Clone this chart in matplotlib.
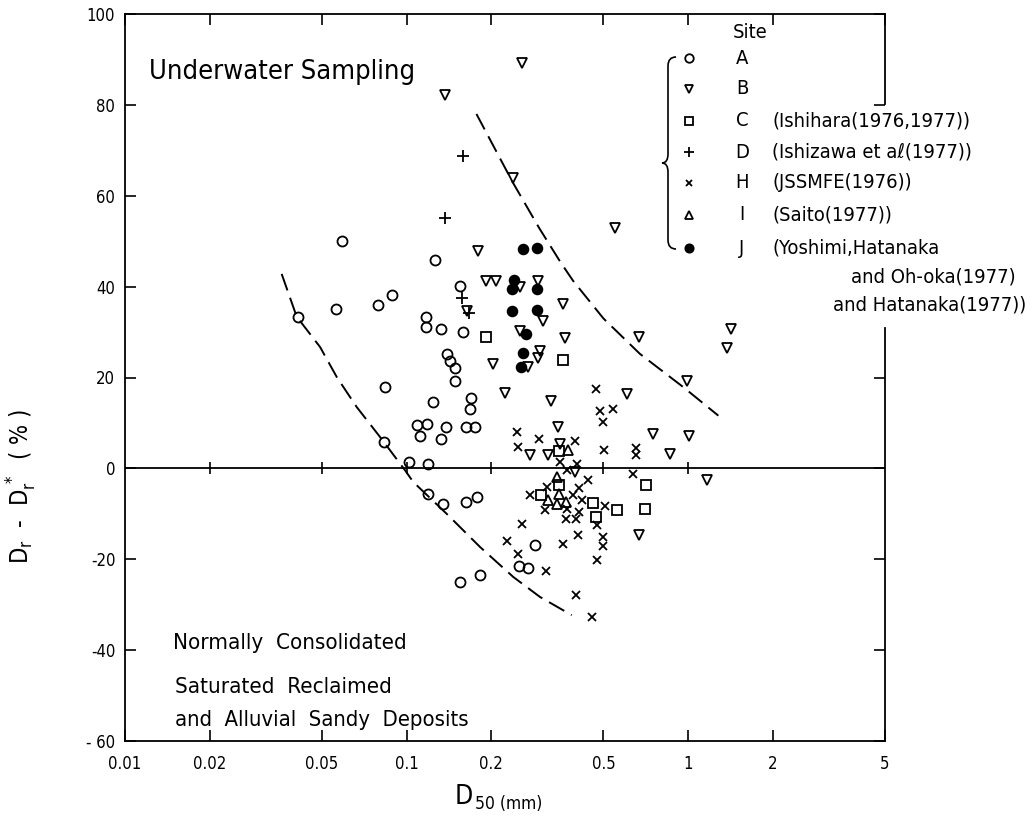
import matplotlib
matplotlib.use("Agg")
import matplotlib.pyplot as plt
from matplotlib.lines import Line2D
from matplotlib.path import Path
from matplotlib.patches import PathPatch
from matplotlib.ticker import NullLocator

plt.rcParams['font.family'] = ['DejaVu Sans']
plt.rcParams['font.stretch'] = 'condensed'
plt.rcParams['mathtext.default'] = 'regular'
plt.rcParams['axes.unicode_minus'] = False

# site A (open circles)
a_x = [0.041, 0.056, 0.059, 0.079, 0.089, 0.117, 0.117, 0.126, 0.132, 0.155,
       0.158, 0.139, 0.143, 0.148, 0.148, 0.084, 0.124, 0.170, 0.168, 0.109,
       0.118, 0.112, 0.138, 0.132, 0.162, 0.175, 0.083, 0.102, 0.119, 0.119,
       0.135, 0.163, 0.178, 0.155, 0.182, 0.286, 0.251, 0.270]
a_y = [33.4, 35.0, 50.0, 36.0, 38.2, 33.3, 31.1, 45.9, 30.7, 40.1,
       30.0, 25.1, 23.6, 22.1, 19.3, 17.9, 14.6, 15.5, 13.1, 9.5,
       9.7, 7.2, 9.1, 6.5, 9.2, 9.2, 5.8, 1.4, 1.0, -5.7,
       -7.9, -7.5, -6.4, -25.0, -23.5, -16.8, -21.5, -22.0]

# site B (open down triangles)
b_x = [0.256, 0.137, 0.239, 0.550, 0.180, 0.191, 0.208, 0.253, 0.294, 0.164,
       0.360, 0.306, 0.253, 0.365, 0.298, 0.294, 0.270, 0.202, 0.224, 0.327,
       0.346, 0.274, 0.319, 0.350, 0.396, 0.604, 0.993, 0.748, 1.007, 0.861,
       1.164, 0.670, 1.416, 1.370, 0.670]
b_y = [89.3, 82.1, 64.0, 53.0, 47.8, 41.3, 41.3, 40.0, 41.3, 34.6,
       36.2, 32.5, 30.3, 28.7, 25.8, 24.3, 22.4, 23.0, 16.5, 14.9,
       9.2, 2.9, 2.9, 5.3, -0.8, 16.3, 19.2, 7.6, 7.1, 3.2,
       -2.6, -14.7, 30.7, 26.5, 28.9]

# site C (open squares)
c_x = [0.191, 0.358, 0.349, 0.347, 0.299, 0.460, 0.471, 0.557, 0.703, 0.708]
c_y = [29.0, 23.9, 3.8, -3.7, -5.9, -7.6, -10.7, -9.1, -8.9, -3.7]

# site D (plus)
d_x = [0.159, 0.137, 0.157, 0.167]
d_y = [68.8, 55.1, 37.6, 34.1]

# site H (x)
h_x = [0.246, 0.296, 0.249, 0.396, 0.471, 0.486, 0.500, 0.542, 0.502, 0.653,
       0.655, 0.350, 0.372, 0.402, 0.442, 0.635, 0.410, 0.314, 0.274, 0.391,
       0.418, 0.310, 0.372, 0.410, 0.368, 0.398, 0.506, 0.256, 0.228, 0.248,
       0.358, 0.407, 0.473, 0.497, 0.497, 0.475, 0.313, 0.400, 0.455]
h_y = [8.0, 6.5, 4.7, 6.0, 17.5, 12.6, 10.3, 13.1, 4.0, 4.5,
       2.9, 1.4, -0.3, 1.0, -2.5, -1.3, -4.3, -4.0, -5.9, -5.8,
       -6.9, -9.1, -8.9, -9.6, -11.1, -11.2, -8.3, -12.2, -16.0, -18.8,
       -16.7, -14.7, -12.4, -15.2, -17.1, -20.2, -22.6, -27.9, -32.7]

# site I (open up triangles)
i_x = [0.375, 0.343, 0.347, 0.318, 0.343, 0.368]
i_y = [4.1, -1.9, -5.6, -7.0, -7.8, -7.4]

# site J (filled circles)
j_x = [0.260, 0.291, 0.241, 0.237, 0.291, 0.236, 0.290, 0.265, 0.259, 0.254]
j_y = [48.3, 48.5, 41.5, 39.4, 39.4, 34.7, 34.9, 29.5, 25.3, 22.3]

# dashed bounds
upper_x = [0.177, 0.238, 0.295, 0.351, 0.390, 0.50, 0.674, 0.96, 1.28]
upper_y = [78.0, 63.0, 53.0, 45.5, 41.3, 33.0, 25.2, 17.9, 11.6]
lower_x = [0.0360, 0.0407, 0.0493, 0.0565, 0.0665, 0.0805, 0.0873, 0.0987,
           0.1056, 0.1388, 0.1823, 0.2393, 0.2977, 0.3857]
lower_y = [42.8, 33.4, 26.7, 20.1, 13.5, 6.9, 4.0, -0.4,
           -3.0, -10.0, -17.3, -23.9, -28.3, -32.3]

xticks = [0.01, 0.02, 0.05, 0.1, 0.2, 0.5, 1, 2, 5]
xtick_labels = ['0.01', '0.02', '0.05', '0.1', '0.2', '0.5', '1', '2', '5']
zero_ticks = [0.02, 0.05, 0.1, 0.2, 0.5, 1]
yticks = [-60, -40, -20, 0, 20, 40, 60, 80, 100]
ytick_labels = ['- 60', '-40', '-20', '0', '20', '40', '60', '80', '100']

site_letters = ['A', 'B', 'C', 'D', 'H', 'I', 'J']
site_refs = ['', '', '(Ishihara(1976,1977))', '(Ishizawa et aℓ(1977))',
             '(JSSMFE(1976))', '(Saito(1977))', '(Yoshimi,Hatanaka']

W, H = 1036, 816
fig = plt.figure(figsize=(W / 100, H / 100), dpi=100)
ax = fig.add_axes([125 / W, 1 - 741 / H, 760 / W, 727 / H])
ax.set_xscale('log')
ax.set_xlim(0.01, 5)
ax.set_ylim(-60, 100)

lw = 1.3
styles = [
    (a_x, a_y, dict(marker='o', ms=7.2, mfc='none')),
    (b_x, b_y, dict(marker='v', ms=7.5, mfc='none')),
    (c_x, c_y, dict(marker='s', ms=6.5, mfc='none')),
    (d_x, d_y, dict(marker='+', ms=9)),
    (h_x, h_y, dict(marker='x', ms=5.5)),
    (i_x, i_y, dict(marker='^', ms=7.5, mfc='none')),
    (j_x, j_y, dict(marker='o', ms=7, mfc='k')),
]
for xs, ys, st in styles:
    ax.plot(xs, ys, ls='none', color='k', mec='k', mew=lw, **st)

ax.plot(upper_x, upper_y, color='k', lw=1.4, dashes=(9, 4))
ax.plot(lower_x, lower_y, color='k', lw=1.4, dashes=(9, 4))

ax.axhline(0, color='k', lw=1.3)
ax.plot(zero_ticks, [0] * len(zero_ticks), ls='none', marker='|', ms=9,
        mew=1.2, color='k')

ax.set_xticks(xticks)
ax.set_xticklabels(xtick_labels)
ax.xaxis.set_minor_locator(NullLocator())
ax.set_yticks(yticks)
ax.set_yticklabels(ytick_labels)
ax.tick_params(axis='x', direction='in', top=True, length=8, width=1.2,
               labelsize=12, pad=10)
ax.tick_params(axis='y', direction='in', right=True, length=8, width=1.2,
               labelsize=12, pad=7)
for v, t in zip(ax.get_yticks(), ax.yaxis.get_major_ticks()):
    if v in (40, 60):
        t.tick2line.set_visible(False)

for s in ax.spines.values():
    s.set_linewidth(1.3)
ax.spines['right'].set_visible(False)
ax.plot([1, 1], [0, 0.568], transform=ax.transAxes, color='k', lw=1.3,
        clip_on=False)
ax.plot([1, 1], [0.876, 1], transform=ax.transAxes, color='k', lw=1.3,
        clip_on=False)

ax.set_ylabel(r'D$_r$  -  D$_r^{\,*}$  ( % )', fontsize=17)
ax.yaxis.set_label_coords(-0.113, 0.35)


def fxy(px, py):
    return px / W, 1 - py / H


fig.text(*fxy(455, 797), 'D', fontsize=19, va='center')
fig.text(*fxy(475, 804), '50 (mm)', fontsize=12.5, va='center')

fig.text(*fxy(149, 72), 'Underwater Sampling', fontsize=19.5, va='center')
fig.text(*fxy(173, 643), 'Normally  Consolidated', fontsize=16, va='center')
fig.text(*fxy(175, 687), 'Saturated  Reclaimed', fontsize=16, va='center')
fig.text(*fxy(175, 720), 'and  Alluvial  Sandy  Deposits', fontsize=15.8,
         va='center')

# legend
fs_leg = 14.5
fig.text(*fxy(733, 33), 'Site', fontsize=fs_leg, va='center')
row_y = [58, 89, 121, 152, 183, 215, 248]
for (xs, ys, st), letter, ref, py in zip(styles, site_letters, site_refs, row_y):
    st2 = dict(st)
    st2['ms'] = st['ms'] * 0.85
    fig.add_artist(Line2D([689 / W], [1 - py / H], ls='none', color='k',
                          mec='k', mew=lw, transform=fig.transFigure, **st2))
    fig.text(*fxy(742, py), letter, fontsize=fs_leg, va='center', ha='center')
    if ref:
        fig.text(*fxy(772, py), ref, fontsize=fs_leg, va='center')
fig.text(*fxy(1016, 277), 'and Oh-oka(1977)', fontsize=fs_leg, va='center',
         ha='right')
fig.text(*fxy(1026, 305), 'and Hatanaka(1977))', fontsize=fs_leg,
         va='center', ha='right')

bp = [(676, 57), (668, 57), (668, 66), (668, 154), (668, 163), (662, 163),
      (668, 163), (668, 172), (668, 240), (668, 249), (676, 249)]
codes = [Path.MOVETO, Path.CURVE3, Path.CURVE3, Path.LINETO, Path.CURVE3,
         Path.CURVE3, Path.CURVE3, Path.CURVE3, Path.LINETO, Path.CURVE3,
         Path.CURVE3]
brace = Path([fxy(*p) for p in bp], codes)
fig.add_artist(PathPatch(brace, fill=False, lw=1.2, color='k',
                         transform=fig.transFigure))

fig.savefig('out.png', dpi=100, facecolor='white')
